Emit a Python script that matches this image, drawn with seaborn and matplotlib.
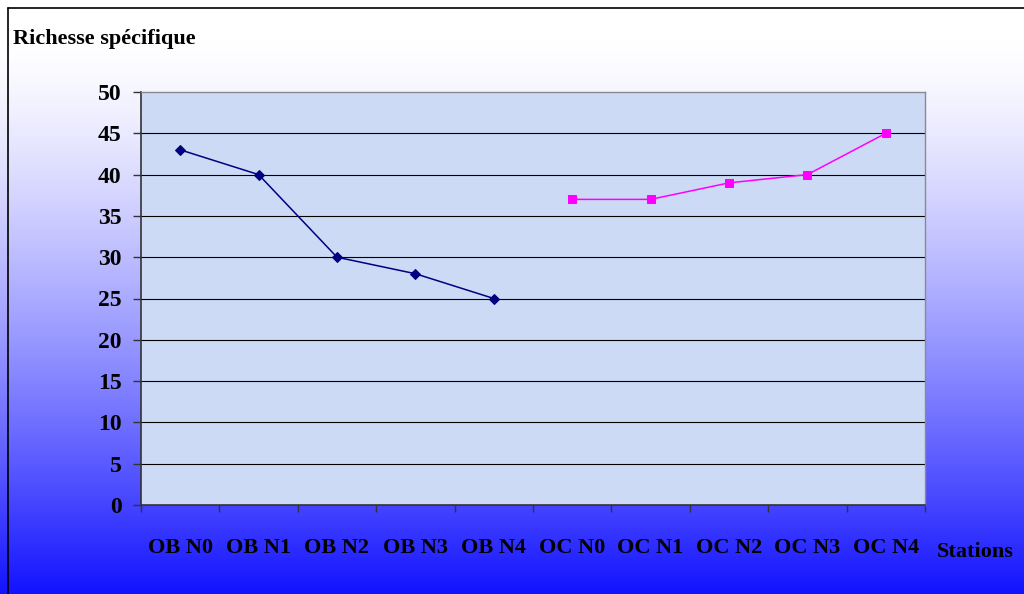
import numpy as np
import pandas as pd
import matplotlib
matplotlib.use("Agg")
import matplotlib.pyplot as plt
from matplotlib.lines import Line2D
import seaborn as sns

# Species richness per station
stations = ["OB N0", "OB N1", "OB N2", "OB N3", "OB N4",
            "OC N0", "OC N1", "OC N2", "OC N3", "OC N4"]
ob_values = [43, 40, 30, 28, 25]
oc_values = [37, 37, 39, 40, 45]
y_ticks = [0, 5, 10, 15, 20, 25, 30, 35, 40, 45, 50]

pos = {s: i for i, s in enumerate(stations)}
ob_df = pd.DataFrame({"station": stations[:5], "richesse": ob_values})
oc_df = pd.DataFrame({"station": stations[5:], "richesse": oc_values})
ob_df["x"] = ob_df["station"].map(pos)
oc_df["x"] = oc_df["station"].map(pos)

sns.set_theme(style="white")
plt.rcParams["font.family"] = ["Liberation Serif", "DejaVu Serif"]
plt.rcParams["font.weight"] = "bold"

fig = plt.figure(figsize=(10.24, 5.94), dpi=100)

# Figure background: white fading to saturated blue at the bottom
bg = fig.add_axes([0, 0, 1, 1], zorder=-10)
h = 594
t = np.clip((np.arange(h) - 40) / (h - 40), 0, 1) ** 1.35
top = np.array([1.0, 1.0, 1.0])
bottom = np.array([0.07, 0.07, 1.0])
grad = (1 - t)[:, None] * top + t[:, None] * bottom
bg.imshow(grad[:, None, :], aspect="auto", extent=[0, 1, 0, 1], origin="upper")
bg.set_axis_off()

# Frame lines on the top and left edges
fig.add_artist(Line2D([8 / 1024, 1], [1 - 8 / 594, 1 - 8 / 594],
                      transform=fig.transFigure, color="black", lw=1.2))
fig.add_artist(Line2D([8 / 1024, 8 / 1024], [0, 1 - 8 / 594],
                      transform=fig.transFigure, color="black", lw=1.2))

ax = fig.add_axes([141 / 1024, 89 / 594, 784 / 1024, 413 / 594])
ax.set_facecolor("#ccdaf5")

for yv in y_ticks[1:-1]:
    ax.axhline(yv, color="black", lw=0.8, zorder=1)

sns.lineplot(data=ob_df, x="x", y="richesse", ax=ax, color="#000080",
             marker="D", markersize=5.5, markeredgecolor="#000080",
             linewidth=1.1, zorder=3)
sns.lineplot(data=oc_df, x="x", y="richesse", ax=ax, color="#ff00ff",
             marker="s", markersize=6, markeredgecolor="#ff00ff",
             linewidth=1.1, zorder=3)

ax.set_xlim(-0.5, len(stations) - 0.5)
ax.set_ylim(0, 50)
ax.set_yticks(y_ticks)
ax.set_yticklabels([str(v) for v in y_ticks], fontsize=17, fontweight="bold")

# Category boundaries as major ticks, labels centred on minor ticks
ax.set_xticks(np.arange(-0.5, len(stations), 1.0))
ax.set_xticklabels([])
ax.set_xticks(np.arange(len(stations)), minor=True)
ax.set_xticklabels(stations, minor=True, fontsize=16, fontweight="bold")
ax.tick_params(axis="x", which="major", direction="out", length=5,
               width=1, color="#333333", bottom=True)
ax.tick_params(axis="x", which="minor", length=0, pad=24, bottom=True,
               labelcolor="black")
ax.tick_params(axis="y", direction="out", length=6, width=1,
               color="#333333", pad=8, left=True, labelcolor="black")

ax.set_xlabel("")
ax.set_ylabel("")

for side in ["left", "bottom"]:
    ax.spines[side].set_color("#333333")
    ax.spines[side].set_linewidth(1.2)
for side in ["top", "right"]:
    ax.spines[side].set_color("#8a8a8a")
    ax.spines[side].set_linewidth(1.0)

fig.text(13 / 1024, 1 - 39 / 594, "Richesse spécifique", fontsize=16,
         fontweight="bold", ha="left", va="center", color="black")
fig.text(975 / 1024, 1 - 552 / 594, "Stations", fontsize=16,
         fontweight="bold", ha="center", va="center", color="black")

fig.savefig("out.png", dpi=100)
